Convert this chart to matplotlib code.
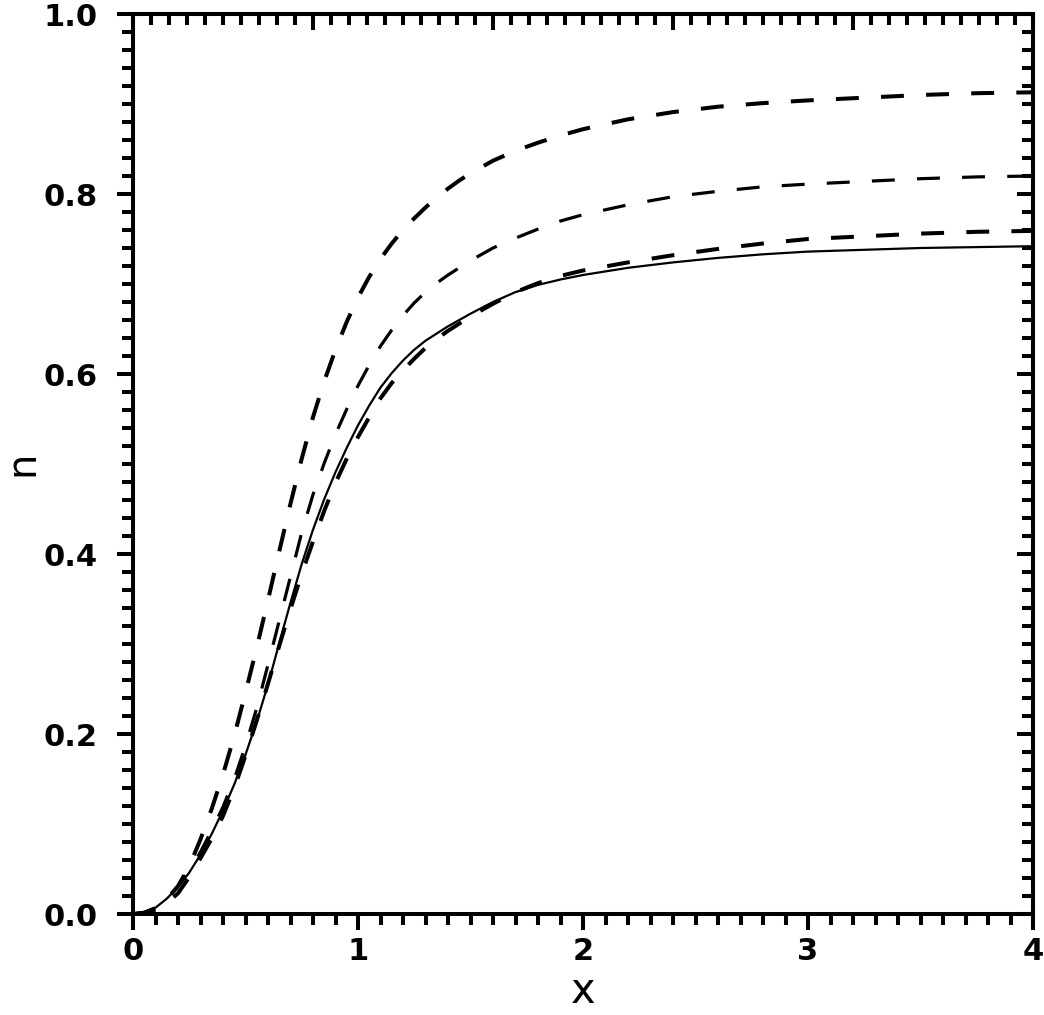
import numpy as np
import matplotlib
matplotlib.use("Agg")
import matplotlib.pyplot as plt
from matplotlib.ticker import MultipleLocator, NullFormatter, FormatStrFormatter

# values
x_vals = [0.0, 0.05, 0.1, 0.15, 0.2, 0.25, 0.3, 0.35, 0.4, 0.45, 0.5,
          0.55, 0.6, 0.65, 0.7, 0.75, 0.8, 0.85, 0.9, 0.95, 1.0,
          1.05, 1.1, 1.15, 1.2, 1.25, 1.3, 1.35, 1.4, 1.45, 1.5,
          1.6, 1.7, 1.8, 1.9, 2.0,
          2.2, 2.4, 2.6, 2.8, 3.0, 3.25, 3.5, 3.75, 4.0]

n_solid = [0.0, 0.002, 0.007, 0.017, 0.030, 0.046, 0.066, 0.089, 0.115, 0.144, 0.177,
           0.214, 0.255, 0.301, 0.346, 0.389, 0.427, 0.461, 0.491, 0.518, 0.543,
           0.565, 0.585, 0.601, 0.615, 0.627, 0.637, 0.645, 0.653, 0.660, 0.667,
           0.680, 0.691, 0.699, 0.705, 0.710,
           0.718, 0.724, 0.729, 0.733, 0.736, 0.738, 0.740, 0.741, 0.742]

n_dash_top = [0.0, 0.001, 0.006, 0.016, 0.031, 0.053, 0.083, 0.117, 0.155, 0.198, 0.246,
              0.296, 0.349, 0.403, 0.456, 0.506, 0.552, 0.592, 0.627, 0.658, 0.685,
              0.708, 0.728, 0.745, 0.760, 0.773, 0.785, 0.796, 0.806, 0.815, 0.823,
              0.837, 0.848, 0.857, 0.865, 0.872,
              0.883, 0.891, 0.897, 0.901, 0.904, 0.907, 0.910, 0.912, 0.913]

n_dash_mid = [0.0, 0.002, 0.007, 0.017, 0.031, 0.048, 0.069, 0.093, 0.119, 0.150, 0.187,
              0.229, 0.277, 0.326, 0.375, 0.424, 0.466, 0.501, 0.533, 0.561, 0.587,
              0.610, 0.631, 0.649, 0.665, 0.679, 0.691, 0.701, 0.710, 0.718, 0.726,
              0.740, 0.751, 0.761, 0.770, 0.777,
              0.788, 0.797, 0.803, 0.808, 0.811, 0.814, 0.817, 0.819, 0.820]

n_dash_low = [0.0, 0.001, 0.005, 0.012, 0.023, 0.041, 0.062, 0.084, 0.109, 0.140, 0.176,
              0.215, 0.256, 0.298, 0.339, 0.378, 0.414, 0.448, 0.479, 0.506, 0.530,
              0.552, 0.573, 0.590, 0.604, 0.617, 0.629, 0.639, 0.648, 0.656, 0.664,
              0.678, 0.691, 0.701, 0.709, 0.715,
              0.724, 0.732, 0.739, 0.745, 0.750, 0.753, 0.756, 0.758, 0.759]

x_ticks = [0, 1, 2, 3, 4]
y_ticks = [0.0, 0.2, 0.4, 0.6, 0.8, 1.0]

plt.rcParams['lines.scale_dashes'] = False

fig = plt.figure(figsize=(10.44, 10.15), dpi=100)
ax = fig.add_axes([133 / 1044, 101 / 1015, 900 / 1044, 900 / 1015])

dash = (0, (16.5, 16.0))
ax.plot(x_vals, n_solid, color='black', lw=1.6)
ax.plot(x_vals, n_dash_top, color='black', lw=2.9, linestyle=dash)
ax.plot(x_vals, n_dash_mid, color='black', lw=2.3, linestyle=dash)
ax.plot(x_vals, n_dash_low, color='black', lw=2.9, linestyle=dash)

ax.set_xlim(0, 4)
ax.set_ylim(0, 1)
ax.set_xticks(x_ticks)
ax.set_yticks(y_ticks)
ax.xaxis.set_minor_locator(MultipleLocator(0.1))
ax.yaxis.set_minor_locator(MultipleLocator(0.02))
ax.xaxis.set_major_formatter(FormatStrFormatter('%d'))
ax.yaxis.set_major_formatter(FormatStrFormatter('%.1f'))

for s in ax.spines.values():
    s.set_linewidth(2.9)

ax.tick_params(which='both', direction='out', top=False, right=False, width=2.9)
ax.tick_params(which='major', length=11.5)
ax.tick_params(which='minor', length=8)
ax.tick_params(axis='x', which='major', pad=5)
ax.tick_params(axis='y', which='major', pad=14)
for lab in ax.get_xticklabels() + ax.get_yticklabels():
    lab.set_fontfamily('DejaVu Sans')
    lab.set_fontweight('bold')
    lab.set_fontsize(22)

# top and right axes carry their own inward ticks
top = ax.secondary_xaxis('top')
top.set_xticks(np.arange(0, 4.01, 0.8))
top.xaxis.set_minor_locator(MultipleLocator(0.08))
top.xaxis.set_major_formatter(NullFormatter())
top.tick_params(which='both', direction='in', width=2.9)
top.tick_params(which='major', length=11.5)
top.tick_params(which='minor', length=8)
top.spines['top'].set_linewidth(2.9)

right = ax.secondary_yaxis('right')
right.set_yticks(y_ticks)
right.yaxis.set_minor_locator(MultipleLocator(0.02))
right.yaxis.set_major_formatter(NullFormatter())
right.tick_params(which='both', direction='in', width=2.9)
right.tick_params(which='major', length=11.5)
right.tick_params(which='minor', length=8)
right.spines['right'].set_linewidth(2.9)

fig.text(583 / 1044, 1 - 1012 / 1015, 'x', fontsize=30, family='DejaVu Sans',
         ha='center', va='bottom')
fig.text(2 / 1044, 1 - 463 / 1015, 'n', fontsize=29, family='DejaVu Sans',
         ha='left', va='center', rotation=90)

fig.savefig('out.png', dpi=100)
